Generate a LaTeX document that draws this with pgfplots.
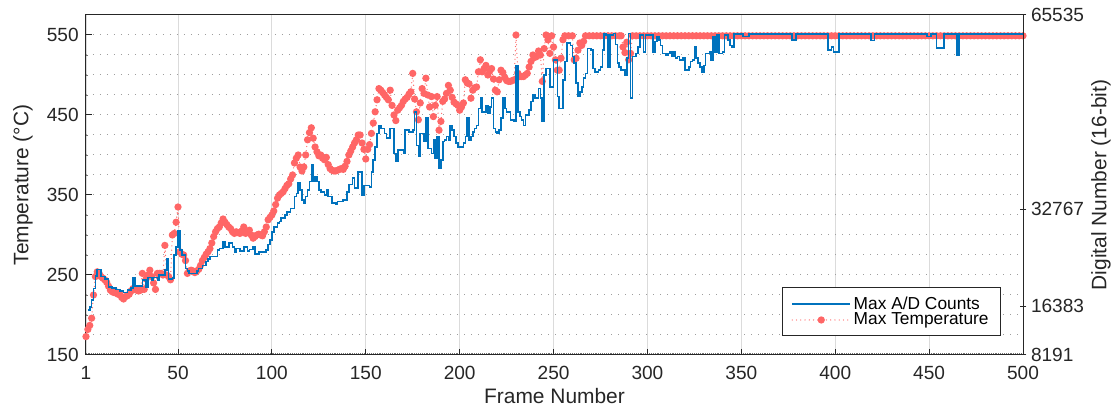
\documentclass[border=0pt]{standalone}
\usepackage{pgfplots}
\usepackage{pgfplotstable}
\pgfplotsset{compat=1.18}
\usepackage{fontspec}
\setmainfont{Liberation Sans}

\definecolor{adblue}{RGB}{0,114,189}
\definecolor{tempred}{RGB}{255,102,102}
\definecolor{axgray}{RGB}{38,38,38}

\newcommand{\tickfont}{\fontsize{14.3pt}{17pt}\selectfont}
\newcommand{\labelfont}{\fontsize{15.7pt}{18.8pt}\selectfont}
\newcommand{\legendfont}{\fontsize{13pt}{15.6pt}\selectfont}

% Maximum temperature per frame (deg C)
\pgfplotstableread[row sep=\\]{
frame T\\
1 173\\ 2 182\\ 3 187\\ 4 196\\ 5 225\\ 6 248\\ 7 254\\ 8 252\\ 9 248\\ 10 246\\
11 244\\ 12 241\\ 13 236\\ 14 231\\ 15 229\\ 16 228\\ 17 229\\ 18 226\\ 19 226\\ 20 222\\
21 220\\ 22 223\\ 23 224\\ 24 226\\ 25 230\\ 26 233\\ 27 232\\ 28 231\\ 29 230\\ 30 231\\
31 252\\ 32 232\\ 33 245\\ 34 250\\ 35 256\\ 36 248\\ 37 240\\ 38 232\\ 39 252\\ 40 252\\
41 252\\ 42 250\\ 43 287\\ 44 250\\ 45 248\\ 46 244\\ 47 300\\ 48 302\\ 49 316\\ 50 335\\
51 279\\ 52 276\\ 53 275\\ 54 268\\ 55 252\\ 56 255\\ 57 256\\ 58 255\\ 59 253\\ 60 255\\
61 257\\ 62 262\\ 63 268\\ 64 272\\ 65 276\\ 66 279\\ 67 283\\ 68 290\\ 69 298\\ 70 304\\
71 308\\ 72 310\\ 73 315\\ 74 320\\ 75 316\\ 76 313\\ 77 310\\ 78 308\\ 79 304\\ 80 302\\
81 304\\ 82 303\\ 83 302\\ 84 305\\ 85 310\\ 86 302\\ 87 304\\ 88 306\\ 89 300\\ 90 296\\
91 298\\ 92 300\\ 93 301\\ 94 300\\ 95 299\\ 96 304\\ 97 310\\ 98 319\\ 99 322\\ 100 325\\
101 330\\ 102 338\\ 103 346\\ 104 350\\ 105 352\\ 106 354\\ 107 358\\ 108 362\\ 109 364\\ 110 370\\
111 375\\ 112 390\\ 113 396\\ 114 400\\ 115 385\\ 116 380\\ 117 385\\ 118 400\\ 119 419\\ 120 428\\
121 434\\ 122 421\\ 123 410\\ 124 404\\ 125 399\\ 126 400\\ 127 396\\ 128 394\\ 129 397\\ 130 388\\
131 383\\ 132 381\\ 133 380\\ 134 380\\ 135 381\\ 136 382\\ 137 383\\ 138 382\\ 139 386\\ 140 392\\
141 400\\ 142 405\\ 143 410\\ 144 415\\ 145 419\\ 146 425\\ 147 425\\ 148 415\\ 149 407\\ 150 395\\
151 407\\ 152 413\\ 153 427\\ 154 440\\ 155 454\\ 156 469\\ 157 483\\ 158 481\\ 159 478\\ 160 475\\
161 472\\ 162 469\\ 163 481\\ 164 462\\ 165 450\\ 166 443\\ 167 456\\ 168 459\\ 169 462\\ 170 467\\
171 470\\ 172 472\\ 173 476\\ 174 479\\ 175 502\\ 176 470\\ 177 454\\ 178 444\\ 179 465\\ 180 483\\
181 477\\ 182 496\\ 183 475\\ 184 460\\ 185 473\\ 186 448\\ 187 462\\ 188 473\\ 189 431\\ 190 442\\
191 467\\ 192 470\\ 193 477\\ 194 487\\ 195 481\\ 196 472\\ 197 466\\ 198 464\\ 199 462\\ 200 456\\
201 460\\ 202 465\\ 203 494\\ 204 490\\ 205 489\\ 206 471\\ 207 481\\ 208 484\\ 209 485\\ 210 504\\
211 519\\ 212 504\\ 213 508\\ 214 512\\ 215 500\\ 216 505\\ 217 508\\ 218 495\\ 219 481\\ 220 479\\
221 494\\ 222 506\\ 223 503\\ 224 497\\ 225 493\\ 226 492\\ 227 492\\ 228 493\\ 229 494\\ 230 550\\
231 502\\ 232 498\\ 233 498\\ 234 498\\ 235 500\\ 236 502\\ 237 510\\ 238 517\\ 239 525\\ 240 522\\
241 523\\ 242 530\\ 243 525\\ 244 492\\ 245 533\\ 246 550\\ 247 544\\ 248 527\\ 249 549\\ 250 535\\
251 519\\ 252 506\\ 253 506\\ 254 521\\ 255 544\\ 256 549\\ 258 549\\ 260 549\\
261 519\\ 262 521\\ 263 531\\ 264 540\\ 265 537\\ 266 542\\ 267 549\\ 269 549\\ 271 549\\ 273 549\\
275 549\\ 277 549\\ 279 549\\ 281 549\\ 283 549\\ 285 549\\ 286 549\\ 287 535\\ 288 528\\ 289 541\\
290 519\\ 291 527\\ 292 549\\ 294 549\\ 296 549\\ 298 549\\ 300 549\\ 302 549\\ 304 549\\ 306 549\\
308 549\\ 310 549\\ 312 549\\ 314 549\\ 316 549\\ 318 549\\ 320 549\\ 322 549\\ 324 549\\ 326 549\\
328 549\\ 330 549\\ 332 549\\ 334 549\\ 336 549\\ 338 549\\ 340 549\\ 342 549\\ 344 549\\ 346 549\\
348 549\\ 350 549\\ 352 549\\ 354 549\\ 356 549\\ 358 549\\ 360 549\\ 362 549\\ 364 549\\ 366 549\\
368 549\\ 370 549\\ 372 549\\ 374 549\\ 376 549\\ 378 549\\ 380 549\\ 382 549\\ 384 549\\ 386 549\\
388 549\\ 390 549\\ 392 549\\ 394 549\\ 396 549\\ 398 549\\ 400 549\\ 402 549\\ 404 549\\ 406 549\\
408 549\\ 410 549\\ 412 549\\ 414 549\\ 416 549\\ 418 549\\ 420 549\\ 422 549\\ 424 549\\ 426 549\\
428 549\\ 430 549\\ 432 549\\ 434 549\\ 436 549\\ 438 549\\ 440 549\\ 442 549\\ 444 549\\ 446 549\\
448 549\\ 450 549\\ 452 549\\ 454 549\\ 456 549\\ 458 549\\ 460 549\\ 462 549\\ 464 549\\ 466 549\\
468 549\\ 470 549\\ 472 549\\ 474 549\\ 476 549\\ 478 549\\ 480 549\\ 482 549\\ 484 549\\ 486 549\\
488 549\\ 490 549\\ 492 549\\ 494 549\\ 496 549\\ 498 549\\ 500 549\\
}\maxtemp

% Maximum A/D counts per frame (16-bit digital number), held until the next frame
\pgfplotstableread[row sep=\\]{
frame dn\\
2 15747\\ 3 16287\\ 4 17501\\ 5 19390\\ 6 21549\\ 7 22628\\ 9 21414\\ 11 21009\\ 13 19660\\ 15 19525\\
17 19255\\ 19 18985\\ 21 18715\\ 23 19120\\ 25 19525\\ 26 21144\\ 27 19795\\ 29 19795\\ 31 20874\\ 33 19660\\
34 21279\\ 36 20874\\ 37 21279\\ 39 20874\\ 40 21684\\ 42 21684\\ 43 22493\\ 44 24382\\ 45 21009\\ 47 21144\\
48 25057\\ 49 26406\\ 50 29105\\ 51 25866\\ 52 25057\\ 54 22763\\ 55 22358\\ 56 21954\\ 58 21954\\ 60 22358\\
61 22763\\ 63 23303\\ 65 23977\\ 66 24382\\ 67 24787\\ 69 24787\\ 71 25866\\ 72 26136\\ 74 27351\\ 75 26406\\
77 27081\\ 79 26406\\ 80 25597\\ 81 26136\\ 83 25732\\ 85 26406\\ 87 25732\\ 88 26001\\ 90 26406\\ 91 25192\\
93 25597\\ 97 25866\\ 98 26811\\ 99 27621\\ 100 28970\\ 101 29779\\ 103 30454\\ 104 30724\\ 105 31264\\ 107 31803\\
108 32343\\ 110 32883\\ 112 34907\\ 113 35446\\ 114 37200\\ 115 35986\\ 116 34367\\ 117 33827\\ 118 34907\\ 119 35986\\
120 37470\\ 121 40304\\ 122 37470\\ 123 38280\\ 124 37470\\ 125 35986\\ 126 35716\\ 128 35176\\ 129 35986\\ 130 34907\\
132 33827\\ 134 33692\\ 135 34097\\ 137 34097\\ 138 34367\\ 140 35716\\ 141 36930\\ 143 38010\\ 144 36391\\ 146 39089\\
148 35176\\ 149 36796\\ 152 36526\\ 153 39089\\ 154 41113\\ 155 43272\\ 156 45566\\ 157 46780\\ 158 46375\\ 160 45566\\
161 44756\\ 163 46375\\ 165 42193\\ 166 40843\\ 167 42732\\ 169 42732\\ 170 42193\\ 171 46105\\ 173 45836\\ 175 46105\\
176 49209\\ 177 43542\\ 178 41653\\ 179 45566\\ 181 44217\\ 182 48129\\ 183 43002\\ 185 42193\\ 186 44486\\ 187 41383\\
188 45026\\ 189 39629\\ 190 41113\\ 191 44217\\ 192 44486\\ 193 45026\\ 194 44486\\ 195 46915\\ 196 46105\\ 197 45026\\
198 43947\\ 199 43272\\ 201 43272\\ 202 43947\\ 203 45026\\ 204 48129\\ 205 44486\\ 206 45026\\ 207 45836\\ 208 46375\\
209 46915\\ 210 49749\\ 211 51503\\ 212 49209\\ 214 50288\\ 215 48939\\ 216 50018\\ 217 51503\\ 218 46375\\ 219 45836\\
220 45566\\ 221 46105\\ 222 48129\\ 223 51503\\ 224 49749\\ 225 49209\\ 227 47860\\ 229 47590\\ 230 57035\\ 231 49209\\
232 48399\\ 233 47860\\ 234 46915\\ 235 48669\\ 237 49479\\ 238 50963\\ 239 52042\\ 240 51503\\ 242 53122\\ 243 51503\\
244 47590\\ 245 55415\\ 246 56495\\ 248 53392\\ 250 57979\\ 252 51772\\ 253 49749\\ 255 54606\\ 256 57709\\ 257 60813\\
259 60408\\ 260 58519\\ 261 57439\\ 262 54066\\ 263 51772\\ 264 52582\\ 265 53392\\ 266 54876\\ 267 55685\\ 268 59868\\
270 59598\\ 271 56495\\ 272 55955\\ 274 56225\\ 275 56765\\ 276 59598\\ 277 62432\\ 278 62162\\ 279 56765\\ 280 62162\\
282 62432\\ 283 60543\\ 284 57439\\ 285 56765\\ 286 56225\\ 288 55415\\ 289 58249\\ 290 62432\\ 291 51503\\ 292 58519\\
294 59058\\ 295 60138\\ 296 62162\\ 298 59328\\ 299 62162\\ 303 59328\\ 304 61082\\ 305 61892\\ 306 61352\\ 307 60408\\
308 59058\\ 310 58789\\ 311 59058\\ 312 59328\\ 313 58519\\ 314 59328\\ 315 58249\\ 316 58519\\ 317 57979\\ 319 58249\\
320 56225\\ 322 56765\\ 323 57709\\ 324 57979\\ 325 60138\\ 326 58249\\ 327 57439\\ 328 56765\\ 329 55820\\ 330 57035\\
331 59058\\ 333 59328\\ 334 57979\\ 335 61892\\ 336 59328\\ 337 62162\\ 338 59058\\ 340 59328\\ 341 62162\\ 343 61352\\
344 60408\\ 345 60138\\ 346 62297\\ 351 61892\\ 354 62297\\ 377 61352\\ 379 62297\\ 396 59598\\ 398 60138\\ 399 59328\\
402 62297\\ 419 61217\\ 421 62297\\ 449 61892\\ 451 62297\\ 454 60003\\ 458 62297\\ 465 58789\\ 466 62297\\ 500 62297\\
}\maxcounts

\begin{document}
\begin{tikzpicture}
\path[use as bounding box] (-64.5pt,-41.25pt) rectangle (771.75pt,266.25pt);

% temperature axis (left)
\begin{axis}[
  at={(0pt,0pt)}, anchor=south west,
  scale only axis, width=702.75pt, height=255pt,
  xmin=1, xmax=500, ymin=150, ymax=575,
  xtick={1,50,100,150,200,250,300,350,400,450,500},
  minor xtick={1,2,...,500},
  ytick={150,250,350,450,550},
  minor ytick={175,200,225,275,300,325,375,400,425,475,500,525},
  xtick pos=left, ytick pos=left,
  tick align=inside,
  major tick length=4.5pt, minor tick length=1.5pt,
  xmajorgrids, ymajorgrids, yminorgrids,
  major x grid style={draw=black!14, line width=0.7pt},
  major y grid style={draw=black!38, line width=0.75pt, dash pattern=on 0.75pt off 4.5pt},
  minor y grid style={draw=black!38, line width=0.75pt, dash pattern=on 0.75pt off 4.5pt},
  axis line style={draw=axgray, line width=0.75pt},
  major tick style={draw=axgray, line width=0.75pt},
  minor tick style={draw=black!55, line width=0.5pt},
  tick label style={text=axgray, font=\tickfont},
  /pgf/number format/assume math mode=true,
  /pgf/number format/1000 sep={},
  xticklabel style={anchor=center, yshift=-13.5pt},
  yticklabel style={xshift=-2pt},
  every axis x label/.style={at={([yshift=-36.75pt]axis description cs:0.5,0)}, anchor=base, inner sep=0pt, text=axgray, font=\labelfont},
  every axis y label/.style={at={([xshift=-47.25pt]axis description cs:0,0.5)}, rotate=90, anchor=center, text=axgray, font=\labelfont},
  xlabel={Frame Number},
  ylabel={Temperature (°C)},
]
\addplot[tempred, line width=1pt, line cap=round, dash pattern=on 0pt off 3.2pt,
  mark=*, mark size=2.2pt, mark options={solid, draw=none, fill=tempred}]
  table[x=frame, y=T]{\maxtemp};
\end{axis}

% digital number axis (right)
\begin{axis}[
  at={(0pt,0pt)}, anchor=south west,
  scale only axis, width=702.75pt, height=255pt,
  xmin=1, xmax=500, ymin=8191, ymax=65535,
  axis x line=none, axis y line*=right,
  ytick={8191,16383,32767,65535},
  scaled y ticks=false,
  tick align=center, major tick length=5pt,
  axis line style={draw=axgray, line width=0.75pt},
  tick style={draw=axgray, line width=0.75pt},
  tick label style={text=axgray, font=\tickfont},
  /pgf/number format/assume math mode=true,
  /pgf/number format/1000 sep={},
  every axis y label/.style={at={([xshift=58.5pt]axis description cs:1,0.5)}, rotate=90, anchor=center, text=axgray, font=\labelfont},
  ylabel={Digital Number (16-bit)},
  legend cell align=left,
  legend image code/.code={\draw[mark repeat=2, mark phase=2, #1] plot coordinates {(0pt,0pt) (21.75pt,0pt) (43.5pt,0pt)};},
  legend style={at={(1,0)}, anchor=south east, xshift=-16.5pt, yshift=14.25pt,
    draw=axgray, line width=0.6pt, fill=white, text=black,
    font=\legendfont,
    inner xsep=7pt, inner ysep=4.5pt, row sep=-2.5pt,
    nodes={inner sep=2pt}},
]
\addplot[const plot, adblue, line width=1.2pt] table[x=frame, y=dn]{\maxcounts};
\addlegendentry{Max A/D Counts}
\addlegendimage{tempred, line width=1pt, line cap=round, dash pattern=on 0pt off 3.2pt,
  mark=*, mark size=2.2pt, mark options={solid, draw=none, fill=tempred}}
\addlegendentry{Max Temperature}
\end{axis}
\end{tikzpicture}
\end{document}
